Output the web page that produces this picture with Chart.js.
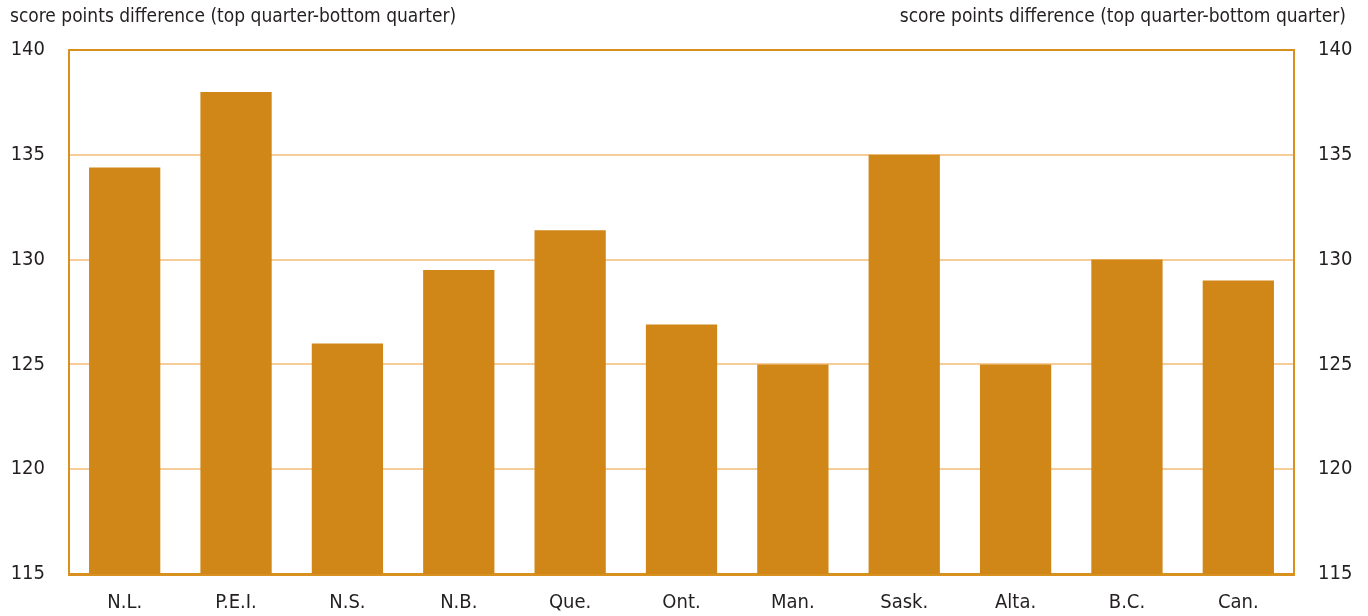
<!DOCTYPE html>
<html>
<head>
<meta charset="utf-8">
<script src="https://cdn.jsdelivr.net/npm/chart.js@4"></script>
<style>
html,body{margin:0;padding:0;background:#fff;}
#wrap{width:1368px;height:616px;position:relative;}
</style>
</head>
<body>
<div id="wrap"><canvas id="c" width="1368" height="616"></canvas></div>
<script>
const categories = ["N.L.", "P.E.I.", "N.S.", "N.B.", "Que.", "Ont.", "Man.", "Sask.", "Alta.", "B.C.", "Can."];
const scoreDiff = [134.4, 138.0, 126.0, 129.5, 131.4, 126.9, 125.0, 135.0, 125.0, 130.0, 129.0];
const axisTitle = "score points difference (top quarter-bottom quarter)";
const yMin = 115, yMax = 140, yStep = 5;

const FONT = "'Liberation Sans Narrow', 'DejaVu Sans Condensed', 'Roboto Condensed', sans-serif";
const BAR = "#d08717";
const BORDER = "#d8911f";
const GRID = "#f6cd98";
const TEXT = "#231f20";

const titlePlugin = {
  id: 'cornerTitles',
  afterDraw(chart) {
    const ctx = chart.ctx;
    ctx.save();
    ctx.font = "19px " + FONT;
    ctx.fillStyle = TEXT;
    ctx.textBaseline = "middle";
    ctx.textAlign = "left";
    ctx.fillText(axisTitle, 10, 17);
    ctx.textAlign = "right";
    ctx.fillText(axisTitle, 1346, 17);
    ctx.restore();
  }
};

new Chart(document.getElementById('c'), {
  type: 'bar',
  data: {
    labels: categories,
    datasets: [{
      data: scoreDiff,
      backgroundColor: BAR,
      borderWidth: 0,
      categoryPercentage: 1.0,
      barPercentage: 0.64
    }]
  },
  options: {
    responsive: false,
    animation: false,
    layout: { padding: { top: 50, bottom: 0, left: 0, right: 0 } },
    plugins: { legend: { display: false }, tooltip: { enabled: false } },
    scales: {
      x: {
        afterFit(scale) { scale.height = 42; },
        grid: { display: false, drawTicks: false },
        border: { display: true, color: BORDER, width: 3 },
        ticks: { color: TEXT, font: { family: FONT, size: 20 }, padding: 17 }
      },
      y: {
        position: 'left',
        min: yMin, max: yMax,
        afterFit(scale) { scale.width = 69; },
        grid: {
          drawTicks: false,
          color: (c) => (c.tick && c.tick.value === yMax) ? BORDER : (c.tick && c.tick.value === yMin ? 'rgba(0,0,0,0)' : GRID),
          lineWidth: 2
        },
        border: { display: true, color: BORDER, width: 2 },
        ticks: { stepSize: yStep, color: TEXT, font: { family: FONT, size: 20 }, padding: 24 }
      },
      y2: {
        position: 'right',
        min: yMin, max: yMax,
        afterFit(scale) { scale.width = 74; },
        grid: { display: false, drawTicks: false },
        border: { display: true, color: BORDER, width: 2 },
        ticks: { stepSize: yStep, color: TEXT, font: { family: FONT, size: 20 }, padding: 24 }
      }
    }
  },
  plugins: [titlePlugin]
});
</script>
</body>
</html>
